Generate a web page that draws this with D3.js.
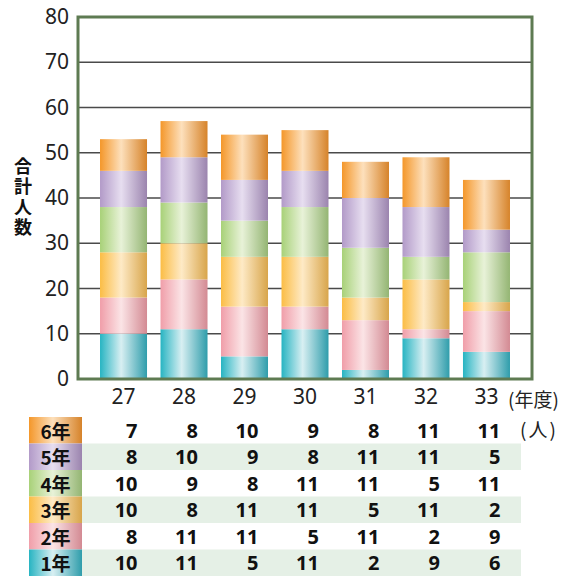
<!DOCTYPE html>
<html>
<head>
<meta charset="utf-8">
<script src="https://cdn.jsdelivr.net/npm/d3@7"></script>
<style>
  html, body { margin: 0; padding: 0; background: #fff; }
  svg { display: block; }
  text { font-family: "Noto Sans CJK JP", "Noto Sans", sans-serif; }
</style>
</head>
<body>
<div id="chart"></div>
<script>
// School years (heisei) and head counts per grade
const years = ["27", "28", "29", "30", "31", "32", "33"];
const grades = ["1年", "2年", "3年", "4年", "5年", "6年"];
const grade1 = [10, 11, 5, 11, 2, 9, 6];
const grade2 = [8, 11, 11, 5, 11, 2, 9];
const grade3 = [10, 8, 11, 11, 5, 11, 2];
const grade4 = [10, 9, 8, 11, 11, 5, 11];
const grade5 = [8, 10, 9, 8, 11, 11, 5];
const grade6 = [7, 8, 10, 9, 8, 11, 11];
const yTicks = [0, 10, 20, 30, 40, 50, 60, 70, 80];

const seriesValues = [grade1, grade2, grade3, grade4, grade5, grade6];

// gradient colours per grade: edge, highlight, shade
const palette = [
  ["#27b4c2", "#d8eff2", "#2f9dab"],
  ["#f09ea9", "#fbe4e6", "#d38a93"],
  ["#fbbd45", "#feeac6", "#d8a54b"],
  ["#a8d178", "#e8f2d8", "#94b573"],
  ["#b29ac8", "#e7def0", "#9b84ae"],
  ["#f4972a", "#fde0bc", "#d6832a"]
];

const W = 570, H = 576;
const plot = { left: 78, right: 532, top: 17, bottom: 379 };

const svg = d3.select("#chart").append("svg")
  .attr("width", W).attr("height", H);

const defs = svg.append("defs");
palette.forEach((c, i) => {
  const g = defs.append("linearGradient")
    .attr("id", "grad" + i)
    .attr("x1", "0%").attr("x2", "100%").attr("y1", "0%").attr("y2", "0%");
  g.append("stop").attr("offset", "0%").attr("stop-color", c[0]);
  g.append("stop").attr("offset", "45%").attr("stop-color", c[1]);
  g.append("stop").attr("offset", "100%").attr("stop-color", c[2]);
});

const x = d3.scaleBand()
  .domain(years)
  .range([plot.left, plot.right])
  .paddingInner(0.223)
  .paddingOuter(0.364);

const y = d3.scaleLinear()
  .domain([0, 80])
  .range([plot.bottom, plot.top]);

// gridlines
svg.append("g")
  .selectAll("line")
  .data(yTicks.filter(t => t > 0 && t < 80))
  .join("line")
  .attr("x1", plot.left).attr("x2", plot.right)
  .attr("y1", d => y(d)).attr("y2", d => y(d))
  .attr("stroke", "#4a4a4a")
  .attr("stroke-width", 1.6);

// stacked bars
const table = years.map((yr, j) => {
  const row = { year: yr };
  grades.forEach((g, i) => { row[g] = seriesValues[i][j]; });
  return row;
});
const stack = d3.stack().keys(grades)(table);

svg.append("g")
  .selectAll("g")
  .data(stack)
  .join("g")
  .attr("fill", (d, i) => `url(#grad${i})`)
  .selectAll("rect")
  .data(d => d)
  .join("rect")
  .attr("x", d => x(d.data.year))
  .attr("width", x.bandwidth())
  .attr("y", d => y(d[1]))
  .attr("height", d => y(d[0]) - y(d[1]));

// frame
svg.append("rect")
  .attr("x", plot.left).attr("y", plot.top)
  .attr("width", plot.right - plot.left)
  .attr("height", plot.bottom - plot.top)
  .attr("fill", "none")
  .attr("stroke", "#5e7b52")
  .attr("stroke-width", 3);

// y axis
const yAxis = svg.append("g")
  .attr("transform", `translate(${plot.left},0)`)
  .call(d3.axisLeft(y).tickValues(yTicks).tickSize(0).tickPadding(9));
yAxis.select(".domain").remove();
yAxis.selectAll("text")
  .attr("font-size", 21)
  .attr("fill", "#222")
  .style("font-family", "'Noto Sans', 'DejaVu Sans', sans-serif");

// y title, written vertically
svg.append("text")
  .attr("x", 23)
  .attr("y", 198)
  .attr("text-anchor", "middle")
  .style("writing-mode", "vertical-rl")
  .style("text-orientation", "upright")
  .style("letter-spacing", "2.5px")
  .attr("font-size", 18)
  .attr("font-weight", "bold")
  .attr("fill", "#111")
  .text("合計人数");

// x axis labels
const xAxis = svg.append("g")
  .attr("transform", `translate(0,${plot.bottom})`)
  .call(d3.axisBottom(x).tickSize(0).tickPadding(10));
xAxis.select(".domain").remove();
xAxis.selectAll("text")
  .attr("font-size", 21)
  .attr("fill", "#222")
  .style("font-family", "'Noto Sans', 'DejaVu Sans', sans-serif");

svg.append("text")
  .attr("x", 508).attr("y", 407)
  .attr("font-size", 19)
  .attr("fill", "#222")
  .text("(年度)");
svg.append("text")
  .attr("x", 520).attr("y", 437)
  .attr("font-size", 19)
  .attr("fill", "#222")
  .style("letter-spacing", "2px")
  .text("(人)");

// data table
const rowTop = 417, rowH = 26.5;
const rowOrder = grades.map((g, i) => i).reverse(); // 6年 first
const labelX0 = 29, labelX1 = 82, stripeX1 = 521;

const rows = svg.append("g")
  .selectAll("g")
  .data(rowOrder)
  .join("g")
  .attr("transform", (d, k) => `translate(0,${rowTop + k * rowH})`);

rows.filter((d, k) => k % 2 === 1)
  .append("rect")
  .attr("x", labelX1).attr("y", 0)
  .attr("width", stripeX1 - labelX1).attr("height", rowH)
  .attr("fill", "#e5f0e6");

rows.append("rect")
  .attr("x", labelX0).attr("y", 0)
  .attr("width", labelX1 - labelX0).attr("height", rowH)
  .attr("fill", d => `url(#grad${d})`);

rows.append("text")
  .attr("x", (labelX0 + labelX1) / 2)
  .attr("y", rowH / 2)
  .attr("text-anchor", "middle")
  .attr("dominant-baseline", "central")
  .attr("font-size", 19)
  .attr("font-weight", "bold")
  .attr("fill", "#111")
  .text(d => grades[d]);

rows.selectAll("text.val")
  .data(d => seriesValues[d].map((v, j) => ({ v, year: years[j] })))
  .join("text")
  .attr("class", "val")
  .attr("x", d => x(d.year) + x.bandwidth() / 2 + 14)
  .attr("y", rowH / 2)
  .attr("text-anchor", "end")
  .attr("dominant-baseline", "central")
  .attr("font-size", 20)
  .attr("font-weight", "bold")
  .attr("fill", "#111")
  .style("font-family", "'Noto Sans', 'DejaVu Sans', sans-serif")
  .text(d => d.v);
</script>
</body>
</html>
